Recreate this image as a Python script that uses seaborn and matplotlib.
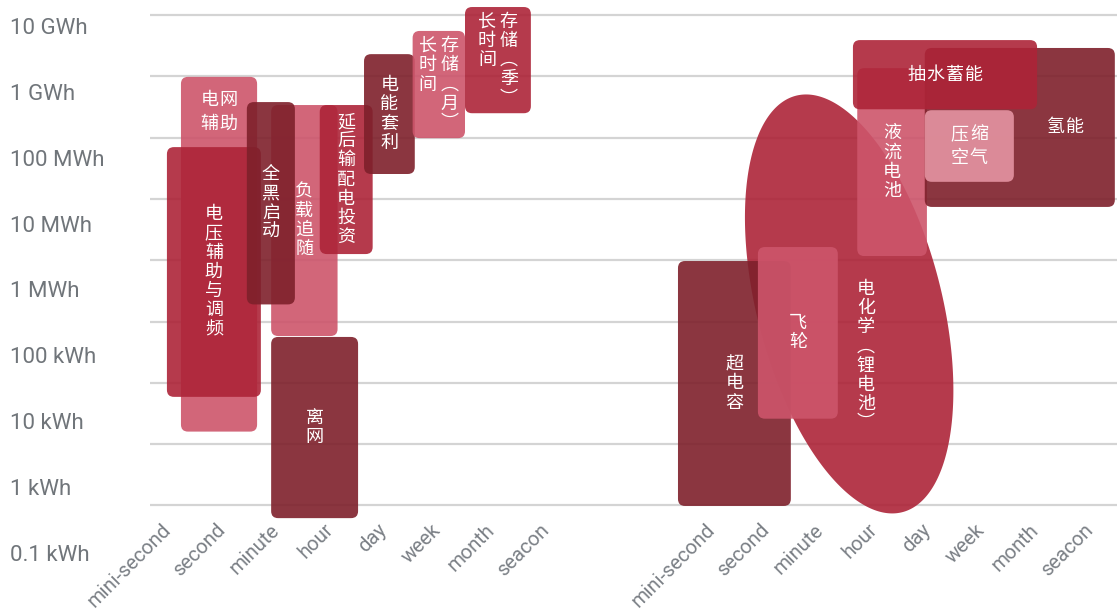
import numpy as np
import matplotlib
matplotlib.use("Agg")
import matplotlib.pyplot as plt
from matplotlib.patches import FancyBboxPatch
import matplotlib.transforms as mtransforms
import seaborn as sns

# ---------------------------------------------------------------- data
time_scales = ["mini-second", "second", "minute", "hour", "day", "week", "month", "seacon"]

energy_ticks_wh = [1e2, 1e3, 1e4, 1e5, 1e6, 1e7, 1e8, 1e9, 1e10]
energy_tick_labels = ["0.1 kWh", "1 kWh", "10 kWh", "100 kWh", "1 MWh",
                      "10 MWh", "100 MWh", "1 GWh", "10 GWh"]

# applications: duration span (time-scale steps) and energy span (Wh)
app_names = ["电网辅助", "电压辅助与调频", "负载追随", "离网", "全黑启动",
             "延后输配电投资", "电能套利", "长时间存储(月)", "长时间存储(季)"]
app_t_start = [0.24, -0.02, 1.91, 1.91, 1.46, 2.81, 3.63, 4.53, 5.50]
app_t_end = [1.65, 1.72, 3.14, 3.52, 2.35, 3.79, 4.57, 5.50, 6.72]
app_e_low = [1.6e3, 5.9e3, 5.8e4, 62, 1.9e5, 1.26e6, 2.55e7, 9.8e7, 2.5e8]
app_e_high = [9.8e8, 7.0e7, 3.4e8, 5.6e4, 3.8e8, 3.4e8, 2.3e9, 5.5e9, 1.35e10]

# technologies: duration span (time-scale steps) and energy span (Wh)
tech_names = ["超电容", "飞轮", "液流电池", "氢能", "抽水蓄能", "压缩空气"]
tech_t_start = [-0.63, 0.85, 2.69, 3.94, 2.61, 3.94]
tech_t_end = [1.46, 2.33, 3.98, 7.46, 6.02, 5.59]
tech_e_low = [98, 2.6e3, 1.17e6, 7.4e6, 2.9e8, 1.9e7]
tech_e_high = [9.7e5, 1.64e6, 1.36e9, 2.9e9, 3.9e9, 2.8e8]

# lithium batteries: oval region
li_name = "电化学(锂电池)"
li_t_range = [0.61, 4.47]
li_e_range = [74, 5.06e8]

# ---------------------------------------------------------------- style
PINK, CRIMSON, MAROON, LIGHT = "#CD556B", "#AD2438", "#7E202B", "#E594A2"
ALPHA = 0.9
app_colors = [PINK, CRIMSON, PINK, MAROON, MAROON, CRIMSON, MAROON, PINK, CRIMSON]
tech_colors = [MAROON, PINK, PINK, MAROON, CRIMSON, LIGHT]
li_color = CRIMSON
li_tilt = np.deg2rad(-24.4)          # phase shift giving the oval its lean

TECH_OFFSET = 10.074                 # second panel starts here on the x axis
CJK = ["Noto Sans CJK SC", "DejaVu Sans"]
GREY = "#70757a"

# label layout: direction, break points, anchor as fraction of the box
layout = {
    "电网辅助": ("h", [2], (0.5, 0.901)),
    "长时间存储(月)": ("v", [3], (0.5, 0.5)),
    "长时间存储(季)": ("v", [3], (0.5, 0.5)),
    "抽水蓄能": ("h", [], (0.5, 0.5)),
    "氢能": ("h", [], (0.739, 0.5)),
    "压缩空气": ("h", [2], (0.5, 0.5)),
    "电化学(锂电池)": ("v", [], (0.580, 0.376)),
}

PX = 0.72                 # points per pixel at 100 dpi
CHAR_PITCH = 19.2 * PX
LINE_PITCH = 24.5 * PX
COL_PITCH = 22.0 * PX
VERT_FORMS = {"(": "︵", ")": "︶"}

sns.set_theme(style="white")
plt.rcParams["font.family"] = CJK

fig = plt.figure(figsize=(11.17, 6.14), dpi=100)
ax = fig.add_axes([150 / 1117, 94 / 614, 967 / 1117, 520 / 614])
ax.set_xlim(-0.3333, 17.574)
ax.set_ylim(1.762, 10.245)
for s in ax.spines.values():
    s.set_visible(False)

ax.set_yticks(np.log10(energy_ticks_wh))
ax.tick_params(axis="y", length=0, labelleft=False)
ax.grid(axis="y", color="#d4d4d4", lw=1.6)
ax.grid(axis="x", visible=False)
ax.set_axisbelow(True)

xpos = list(range(len(time_scales))) + [TECH_OFFSET + i for i in range(len(time_scales))]
ax.set_xticks(xpos, time_scales * 2)
ax.tick_params(axis="x", length=0, pad=5, labelsize=14.5, labelcolor="#7b8086")
for lab in ax.get_xticklabels():
    lab.set(rotation=45, ha="right", va="center", rotation_mode="anchor",
            family=["Roboto"])

# aspect of one x unit versus one decade on screen, for round corners
bb = ax.get_position()
px_per_x = bb.width * 1117 / (17.574 + 0.3333)
px_per_y = bb.height * 614 / (10.245 - 1.762)
RADIUS_PX = 7


def draw_label(name, x, y):
    direction, breaks, _ = layout.get(name, ("v", [], (0.5, 0.5)))
    cuts = [0] + breaks + [len(name)]
    lines = [name[a:b] for a, b in zip(cuts[:-1], cuts[1:])]
    n = len(lines)
    m = max(len(l) for l in lines)
    for i, line in enumerate(lines):
        for k, ch in enumerate(line):
            if direction == "v":
                ch = VERT_FORMS.get(ch, ch)
                dx = (i - (n - 1) / 2) * COL_PITCH
                dy = ((m - 1) / 2 - k) * CHAR_PITCH
            else:
                dx = (k - (len(line) - 1) / 2) * CHAR_PITCH
                dy = ((n - 1) / 2 - i) * LINE_PITCH
            ax.annotate(ch, xy=(x, y), xytext=(dx, dy), textcoords="offset points",
                        ha="center", va="center", fontsize=13, color="white",
                        family=CJK, zorder=10)


def draw_box(name, t0, t1, e0, e1, color, offset=0.0):
    y0, y1 = np.log10(e0), np.log10(e1)
    x0, x1 = t0 + offset, t1 + offset
    patch = FancyBboxPatch((x0, y0), x1 - x0, y1 - y0,
                           boxstyle=f"round,pad=0,rounding_size={RADIUS_PX / px_per_x}",
                           mutation_aspect=px_per_x / px_per_y,
                           facecolor=color, edgecolor="none", alpha=ALPHA, zorder=3)
    ax.add_patch(patch)
    fx, fy = layout.get(name, ("v", [], (0.5, 0.5)))[2]
    draw_label(name, x0 + fx * (x1 - x0), y0 + fy * (y1 - y0))


for args in zip(app_names, app_t_start, app_t_end, app_e_low, app_e_high, app_colors):
    draw_box(*args)

# lithium oval, drawn beneath the technology boxes
lx0, lx1 = li_t_range[0] + TECH_OFFSET, li_t_range[1] + TECH_OFFSET
ly0, ly1 = np.log10(li_e_range)
cx, cy = (lx0 + lx1) / 2, (ly0 + ly1) / 2
hw, hh = (lx1 - lx0) / 2, (ly1 - ly0) / 2
t = np.linspace(0, 2 * np.pi, 400)
ax.fill(cx + hw * np.cos(t), cy + hh * np.sin(t + li_tilt),
        color=li_color, alpha=ALPHA, lw=0, zorder=3)
fx, fy = layout[li_name][2]
draw_label(li_name, lx0 + fx * (lx1 - lx0), ly0 + fy * (ly1 - ly0))

for args in zip(tech_names, tech_t_start, tech_t_end, tech_e_low, tech_e_high, tech_colors):
    draw_box(*args, offset=TECH_OFFSET)

# energy labels down the left margin
lab_ax = fig.add_axes([0, 0, 150 / 1117, 1])
lab_ax.set_ylim(1.1027, 10.441)
lab_ax.axis("off")
trans = mtransforms.blended_transform_factory(lab_ax.transAxes, lab_ax.transData)
for e, lab in zip(energy_ticks_wh, energy_tick_labels):
    lab_ax.text(10 / 150, np.log10(e), lab, transform=trans, ha="left", va="center",
                fontsize=16, color=GREY, family=["Roboto"])

fig.savefig("out.png", dpi=100)
